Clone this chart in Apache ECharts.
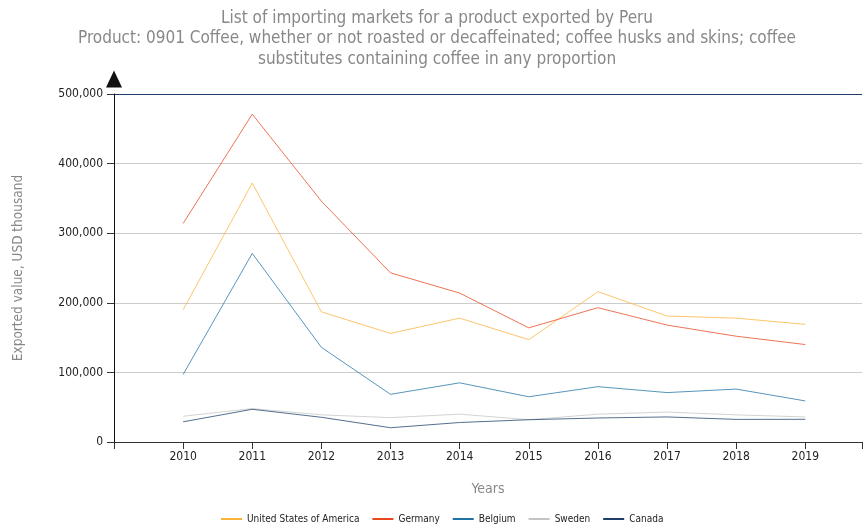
<!DOCTYPE html>
<html>
<head>
<meta charset="utf-8">
<script src="https://cdn.jsdelivr.net/npm/echarts@6/dist/echarts.min.js"></script>
<style>
  html, body { margin: 0; padding: 0; background: #fff; }
  #main { width: 865px; height: 526px; }
</style>
</head>
<body>
<div id="main"></div>
<script>
// data (USD thousand)
var years = [2010, 2011, 2012, 2013, 2014, 2015, 2016, 2017, 2018, 2019];
var usa     = [190000, 372000, 187000, 156000, 178000, 147000, 216000, 181000, 178000, 169000];
var germany = [314000, 471000, 346000, 243000, 214000, 164000, 193000, 168000, 152000, 140000];
var belgium = [97000, 271000, 136000, 68500, 85000, 65000, 79500, 71000, 76000, 59000];
var sweden  = [37000, 48000, 39000, 35000, 40000, 32000, 40000, 43000, 39000, 36000];
var canada  = [29000, 47000, 35500, 20500, 28000, 32000, 34500, 36000, 32500, 32600];
var yTicks = [0, 100000, 200000, 300000, 400000, 500000];

var font = "'DejaVu Sans Condensed', sans-serif";

function pairs(vals) {
  return years.map(function (y, i) { return [y, vals[i]]; });
}

function line(name, color, vals) {
  return {
    name: name,
    type: 'line',
    symbol: 'none',
    lineStyle: { width: 1, color: color, opacity: 0.75 },
    itemStyle: { color: color },
    data: pairs(vals)
  };
}

var chart = echarts.init(document.getElementById('main'));

var option = {
  animation: false,
  backgroundColor: '#fff',
  title: {
    text: 'List of importing markets for a product exported by Peru\nProduct: 0901 Coffee, whether or not roasted or decaffeinated; coffee husks and skins; coffee\nsubstitutes containing coffee in any proportion',
    left: 432,
    top: 3,
    textAlign: 'center',
    textStyle: {
      color: '#888',
      fontSize: 17,
      fontWeight: 'normal',
      fontFamily: font,
      lineHeight: 20.5
    }
  },
  legend: {
    top: 509,
    left: 216,
    itemWidth: 21,
    itemHeight: 2,
    itemGap: 13,
    icon: 'rect',
    textStyle: { color: '#222', fontSize: 10, fontFamily: font },
    data: ['United States of America', 'Germany', 'Belgium', 'Sweden', 'Canada']
  },
  grid: { left: 114, right: 0, top: 94, bottom: 84 },
  xAxis: {
    type: 'value',
    min: 2009,
    max: 2019.82,
    interval: 1,
    name: 'Years',
    nameLocation: 'middle',
    nameGap: 40,
    nameTextStyle: { color: '#888', fontSize: 14, fontFamily: font },
    axisLine: { lineStyle: { color: '#333', width: 1 } },
    axisTick: { length: 7, lineStyle: { color: '#333' } },
    axisLabel: {
      color: '#222',
      fontSize: 12,
      fontFamily: font,
      margin: 9,
      formatter: function (v) { return years.indexOf(v) >= 0 ? String(v) : ''; }
    },
    splitLine: { show: false }
  },
  yAxis: {
    type: 'value',
    min: yTicks[0],
    max: yTicks[yTicks.length - 1],
    interval: 100000,
    name: 'Exported value, USD thousand',
    nameLocation: 'middle',
    nameGap: 89,
    nameTextStyle: { color: '#888', fontSize: 13.5, fontFamily: font },
    axisLine: {
      show: true,
      symbol: ['none', 'triangle'],
      symbolSize: [16, 17],
      symbolOffset: [0, 15],
      lineStyle: { color: '#111', width: 1 }
    },
    axisTick: { show: true, length: 7, lineStyle: { color: '#333' } },
    axisLabel: {
      color: '#222',
      fontSize: 12,
      fontFamily: font,
      margin: 11,
      formatter: function (v) { return v.toLocaleString('en-US'); }
    },
    splitLine: {
      show: true,
      lineStyle: { color: ['#ccc', '#ccc', '#ccc', '#ccc', '#ccc', '#1f3d6b'], width: 1 }
    }
  },
  series: [
    line('United States of America', '#f9b33a', usa),
    line('Germany', '#e8461e', germany),
    line('Belgium', '#1f72a6', belgium),
    line('Sweden', '#c4c4c4', sweden),
    line('Canada', '#1f3d6b', canada)
  ]
};

chart.setOption(option);
</script>
</body>
</html>
